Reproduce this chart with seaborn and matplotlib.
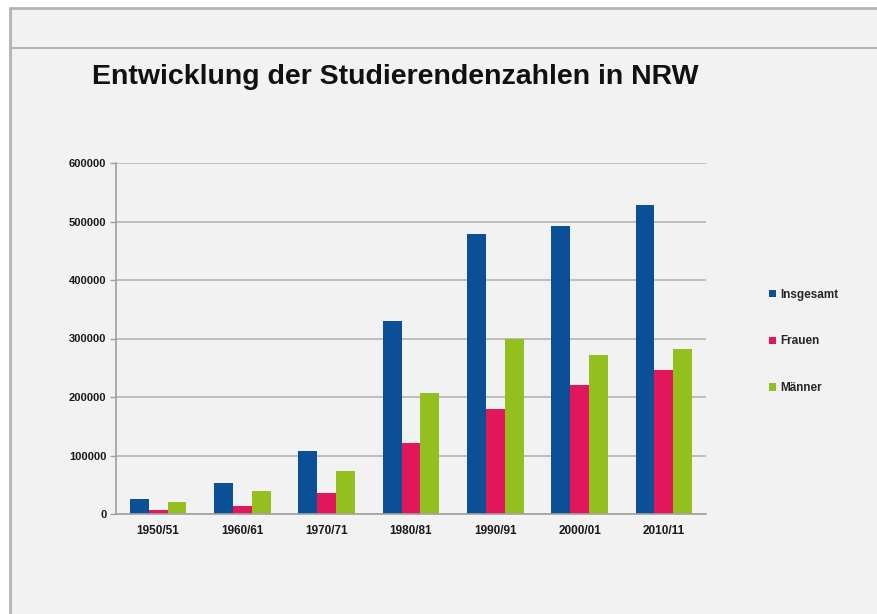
import matplotlib
matplotlib.use("Agg")
import matplotlib.pyplot as plt
import seaborn as sns
import pandas as pd
import numpy as np
from matplotlib.patches import Rectangle
from matplotlib.lines import Line2D

semesters = ["1950/51", "1960/61", "1970/71", "1980/81", "1990/91", "2000/01", "2010/11"]
insgesamt = [25000, 53500, 108000, 330000, 478500, 492500, 528500]
frauen = [6000, 13500, 35500, 122000, 179000, 220500, 245500]
maenner = [20000, 39500, 73500, 207500, 299500, 271500, 282500]
series_names = ["Insgesamt", "Frauen", "Männer"]
colors = ["#0b4f96", "#e2165a", "#93c01f"]
title = "Entwicklung der Studierendenzahlen in NRW"

rows = []
for name, vals in zip(series_names, [insgesamt, frauen, maenner]):
    for s, v in zip(semesters, vals):
        rows.append({"Semester": s, "Gruppe": name, "Wert": v})
df = pd.DataFrame(rows)

sns.set_style("white")
FONT = ["Liberation Sans", "DejaVu Sans"]
plt.rcParams["font.family"] = FONT

W, H = 877, 614
fig = plt.figure(figsize=(W / 100, H / 100), dpi=100, facecolor="white")

fig.patches.append(Rectangle((10 / W, 0), 1, 1 - 8 / H, transform=fig.transFigure,
                             facecolor="#f2f2f2", edgecolor="none", zorder=-5))
fig.lines.append(Line2D([10 / W, 1], [1 - 8 / H, 1 - 8 / H], transform=fig.transFigure,
                        color="#b4b4b4", lw=2, zorder=-4))
fig.lines.append(Line2D([10 / W, 10 / W], [0, 1 - 8 / H], transform=fig.transFigure,
                        color="#b4b4b4", lw=2, zorder=-4))
fig.lines.append(Line2D([10 / W, 1], [1 - 48 / H, 1 - 48 / H], transform=fig.transFigure,
                        color="#b4b4b4", lw=1.5, zorder=-4))

ax = fig.add_axes([116 / W, 1 - 514 / H, 590 / W, (514 - 163) / H])
ax.set_facecolor("none")
sns.barplot(data=df, x="Semester", y="Wert", hue="Gruppe", hue_order=series_names,
            order=semesters, palette=colors, width=0.67, saturation=1, ax=ax,
            errorbar=None, legend=True, linewidth=0, edgecolor="none")

ax.set_ylim(0, 600000)
ax.set_xlim(-0.5, len(semesters) - 0.5)
ax.set_yticks(np.arange(0, 600001, 100000))
ax.set_yticklabels([f"{int(v)}" for v in np.arange(0, 600001, 100000)],
                   fontsize=8, fontweight="bold", color="#1a1a1a")
ax.set_xticks(range(len(semesters)))
ax.set_xticklabels(semesters, fontsize=8.5, fontweight="bold", color="#1a1a1a")
ax.set_xticks(np.arange(-0.5, len(semesters), 1), minor=True)
ax.tick_params(axis="x", which="major", length=0, pad=8)
ax.tick_params(axis="x", which="minor", length=4, color="#a0a0a0", width=1)
ax.tick_params(axis="y", length=4, color="#a0a0a0", width=1, pad=3, left=True)
ax.set_xlabel("")
ax.set_ylabel("")
ax.yaxis.grid(True, color="#b4b4b4", lw=1.2)
ax.set_axisbelow(True)
for side in ["top", "right"]:
    ax.spines[side].set_visible(False)
for side in ["left", "bottom"]:
    ax.spines[side].set_color("#a0a0a0")
    ax.spines[side].set_linewidth(1.2)

handles, labels = ax.get_legend_handles_labels()
ax.legend_.remove()
leg = fig.legend(handles, labels, loc="upper left", bbox_to_anchor=(758 / W, 1 - 278 / H),
                 frameon=False, handlelength=0.6, handleheight=0.6, handletextpad=0.4,
                 labelspacing=2.95, prop={"family": FONT, "weight": "bold", "size": 8.5})

fig.text(92 / W, 1 - 77 / H, title, fontsize=20.5, fontweight="bold", va="center",
         ha="left", color="#111111")

fig.savefig("out.png", dpi=100, facecolor="white")
